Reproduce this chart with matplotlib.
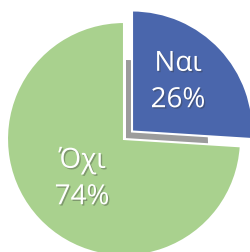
import matplotlib
matplotlib.use("Agg")
import matplotlib.pyplot as plt
import matplotlib.patheffects as pe

labels = ["Ναι", "Όχι"]
values = [26, 74]
colors = ["#4A66AC", "#A9D18E"]

W, H = 250, 253
fig = plt.figure(figsize=(W / 100, H / 100), dpi=100)
ax = fig.add_axes([0, 0, 1, 1])

cx, cy, r = 124, H - 140, 117

# shadow of the exploded slice
ax.pie(values, startangle=90, counterclock=False, center=(cx + 2, cy - 3), radius=82,
       colors=["#9C9C9C", "none"], wedgeprops=dict(linewidth=0), frame=True)

wedges, _ = ax.pie(values, startangle=90, counterclock=False, center=(cx, cy), radius=r,
                   colors=colors, explode=[11, 0], frame=True,
                   wedgeprops=dict(edgecolor="white", linewidth=1.5))
wedges[0].set_radius(r + 4)
ax.set_xlim(0, W)
ax.set_ylim(0, H)
ax.set_aspect("equal")
ax.axis("off")

shadow = [pe.withSimplePatchShadow(offset=(1, -1), shadow_rgbFace="#333333", alpha=0.35)]
tpos = [(178, H - 83), (82, H - 180)]
for (x, y), lab, v in zip(tpos, labels, values):
    ax.text(x, y, f"{lab}\n{v}%", ha="center", va="center", color="white",
            fontsize=20, family="Open Sans", linespacing=1.4, path_effects=shadow)

fig.savefig("out.png", dpi=100)
